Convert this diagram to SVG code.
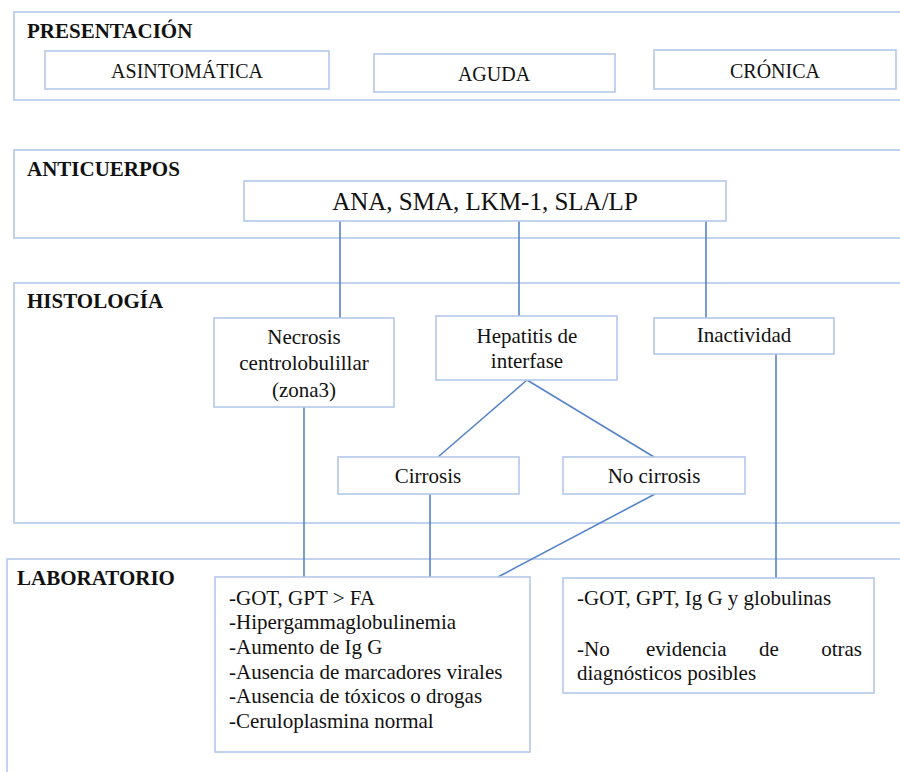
<svg xmlns="http://www.w3.org/2000/svg" width="900" height="772" viewBox="0 0 900 772">
<style>
.sec{fill:none;stroke:#b3c8ea;stroke-width:1.6}
.box{fill:#fff;stroke:#b3c8ea;stroke-width:1.6}
.h{font-family:"Liberation Serif",serif;font-weight:bold;font-size:21px;fill:#111}
.t{font-family:"Liberation Serif",serif;font-size:21px;fill:#111}
.c{text-anchor:middle}
.con line{stroke:#5584c8;stroke-width:1.6}
</style>
<rect width="900" height="772" fill="#fff"/>
<g id="sec-presentacion"><rect class="sec" x="14" y="12" width="900" height="88"/><text class="h" x="27" y="38">PRESENTACIÓN</text></g>
<g id="sec-anticuerpos"><rect class="sec" x="14" y="150" width="900" height="88"/><text class="h" x="27" y="176">ANTICUERPOS</text></g>
<g id="sec-histologia"><rect class="sec" x="14" y="283" width="900" height="240"/><text class="h" x="27" y="308">HISTOLOGÍA</text></g>
<g id="sec-laboratorio"><rect class="sec" x="7" y="559" width="910" height="230"/><text class="h" x="17" y="585">LABORATORIO</text></g>
<g id="asintomatica"><rect class="box" x="45" y="51" width="284" height="38"/><text class="t c" x="187" y="78" style="font-size:20px">ASINTOMÁTICA</text></g>
<g id="aguda"><rect class="box" x="374" y="54" width="241" height="38"/><text class="t c" x="494" y="81" style="font-size:20px">AGUDA</text></g>
<g id="cronica"><rect class="box" x="654" y="50" width="242" height="39"/><text class="t c" x="775" y="78" style="font-size:20px">CRÓNICA</text></g>
<g class="con" id="connectors">
<line x1="340" y1="221" x2="340" y2="318"/>
<line x1="519" y1="221" x2="519" y2="316"/>
<line x1="706" y1="221" x2="706" y2="318"/>
<line x1="527" y1="380" x2="438" y2="457"/>
<line x1="527" y1="380" x2="654" y2="457"/>
<line x1="304" y1="407" x2="304" y2="577"/>
<line x1="430" y1="494" x2="430" y2="577"/>
<line x1="655" y1="494" x2="498" y2="577"/>
<line x1="776" y1="354" x2="776" y2="578"/>
</g>
<g id="anticuerpos"><rect class="box" x="244" y="181" width="482" height="40"/><text class="t c" x="485" y="210" style="font-size:25px">ANA, SMA, LKM-1, SLA/LP</text></g>
<g id="necrosis"><rect class="box" x="214" y="318" width="180" height="89"/><text class="t c" x="304" y="344">Necrosis</text><text class="t c" x="304" y="370">centrolobulillar</text><text class="t c" x="304" y="397">(zona3)</text></g>
<g id="hepatitis"><rect class="box" x="436" y="316" width="181" height="64"/><text class="t c" x="527" y="343">Hepatitis de</text><text class="t c" x="527" y="368">interfase</text></g>
<g id="inactividad"><rect class="box" x="654" y="318" width="180" height="36"/><text class="t c" x="744" y="342">Inactividad</text></g>
<g id="cirrosis"><rect class="box" x="338" y="457" width="181" height="37"/><text class="t c" x="428" y="483">Cirrosis</text></g>
<g id="no-cirrosis"><rect class="box" x="563" y="457" width="182" height="37"/><text class="t c" x="654" y="483">No cirrosis</text></g>
<g id="lab-1"><rect class="box" x="215" y="577" width="315" height="175"/>
<text class="t" x="229" y="605">-GOT, GPT &gt; FA</text>
<text class="t" x="229" y="629">-Hipergammaglobulinemia</text>
<text class="t" x="229" y="654">-Aumento de Ig G</text>
<text class="t" x="229" y="679">-Ausencia de marcadores virales</text>
<text class="t" x="229" y="703">-Ausencia de tóxicos o drogas</text>
<text class="t" x="229" y="728">-Ceruloplasmina normal</text>
</g>
<g id="lab-2"><rect class="box" x="563" y="578" width="311" height="115"/>
<text class="t" x="577" y="605">-GOT, GPT, Ig G y globulinas</text>
<text class="t" x="577" y="656">-No</text><text class="t" x="646" y="656">evidencia</text><text class="t" x="759" y="656">de</text><text class="t" x="862" y="656" text-anchor="end">otras</text>
<text class="t" x="577" y="680">diagnósticos posibles</text>
</g>
</svg>
